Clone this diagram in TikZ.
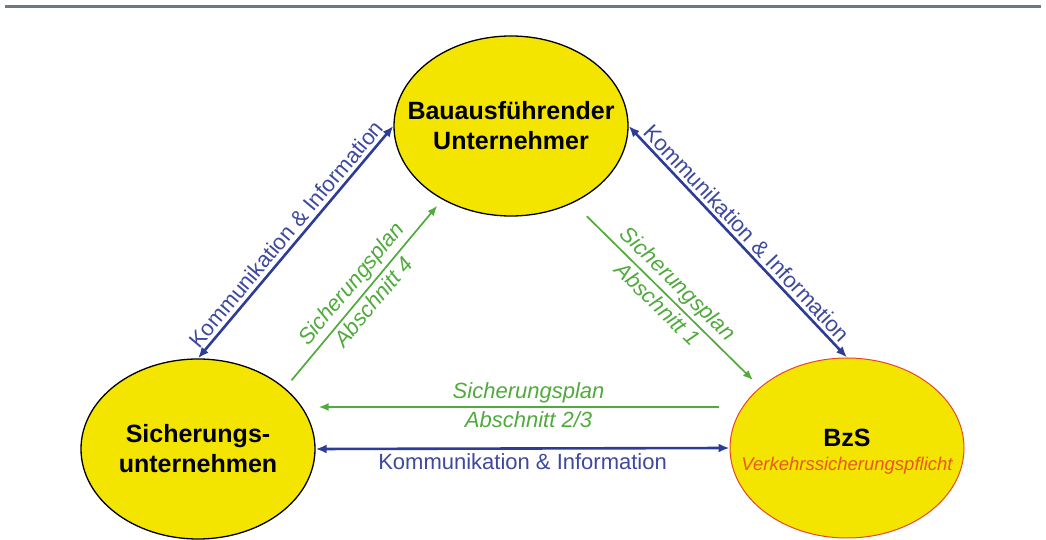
\documentclass[tikz,border=0pt]{standalone}
\usepackage{fontspec}
\setmainfont{Liberation Sans}
\usetikzlibrary{shapes.geometric,arrows.meta}
\definecolor{planyellow}{RGB}{243,229,0}
\definecolor{infoblue}{RGB}{45,60,150}
\definecolor{infotext}{RGB}{62,72,158}
\definecolor{plangreen}{RGB}{80,170,60}
\definecolor{bzsred}{RGB}{232,70,40}
\definecolor{bzsorange}{RGB}{232,88,40}
\definecolor{rulegray}{RGB}{110,120,128}

\begin{document}
\begin{tikzpicture}[x=1pt,y=1pt,
    party/.style={ellipse,draw=black,line width=1.3pt,fill=planyellow,
        minimum width=234pt,minimum height=180pt,inner sep=0pt},
    partytext/.style={align=center,font=\fontsize{25}{30}\selectfont\bfseries},
    info/.style={infoblue,line width=2.6pt,>={Latex[length=11pt,width=9pt]},<->,
        nodes={font=\fontsize{22}{26}\selectfont,text=infotext}},
    plan/.style={plangreen,line width=1.7pt,-{Latex[length=10pt,width=8pt]},
        nodes={font=\fontsize{22}{26}\selectfont\itshape}}]
    \useasboundingbox (0,0) rectangle (1046,540);
    \draw[rulegray,line width=3pt] (5,533) -- (1041,533);

    % the three parties
    \node[party,label={[partytext]center:Bauausführender\\Unternehmer}] (bu) at (511,414) {};
    \node[party,label={[partytext]center:Sicherungs-\\unternehmen}] (su) at (198,91) {};
    \node[party,draw=bzsred,line width=1pt,
        label={[partytext,yshift=-4pt]center:BzS\\[-6pt]{\fontsize{18.5}{22}\selectfont\mdseries\itshape\color{bzsorange}Verkehrssicherungspflicht}}] (bzs) at (847,92) {};

    % Kommunikation
    \draw[info] (su.north) -- node[sloped,above]{Kommunikation \& Information} (bu.west);
    \draw[info] (bu.east) -- node[sloped,above]{Kommunikation \& Information} (bzs.north);
    \draw[info] (su.east) -- node[below]{Kommunikation \& Information} (bzs.west);

    % Sicherungsplan
    \draw[plan,shorten <=19pt,shorten >=10pt] (bu.309) -- node[sloped,above]{Sicherungsplan}
        node[sloped,below]{Abschnitt 1} (bzs.145);
    \draw[plan,shorten <=10pt,shorten >=8pt] (su.35) -- node[sloped,above]{Sicherungsplan}
        node[sloped,below]{Abschnitt 4} (bu.227);
    \draw[plan] ([shift={(-11,41)}]bzs.west) -- node[pos=.475,above]{Sicherungsplan}
        node[pos=.475,below]{Abschnitt 2/3} ([shift={(3,42)}]su.east);
\end{tikzpicture}
\end{document}
